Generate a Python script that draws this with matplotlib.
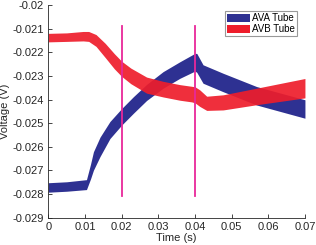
import numpy as np
import matplotlib
matplotlib.use('Agg')
import matplotlib.pyplot as plt

plt.rcParams['font.family'] = ['Liberation Sans', 'DejaVu Sans']

# AVA tube: time, centre voltage, vertical width of the band
ava_t = [0, 0.005, 0.0104, 0.0115, 0.0123, 0.0141, 0.0168, 0.020, 0.0232,
         0.0268, 0.0313, 0.0359, 0.040, 0.0405, 0.0422, 0.0477, 0.0568, 0.070]
ava_v = [-0.02772, -0.02768, -0.02760, -0.02705, -0.02660, -0.02600, -0.02529,
         -0.02473, -0.02423, -0.02370, -0.02317, -0.02275, -0.02242, -0.02245,
         -0.02292, -0.02328, -0.02384, -0.02440]
ava_w = [0.00040, 0.00040, 0.00042, 0.00062, 0.00078, 0.00082, 0.00072,
         0.00070, 0.00070, 0.00068, 0.00070, 0.00070, 0.00075, 0.00080,
         0.00078, 0.00078, 0.00078, 0.00078]

# AVB tube
avb_t = [0, 0.005, 0.0095, 0.011, 0.013, 0.0155, 0.018, 0.020, 0.0225, 0.0268,
         0.0313, 0.0359, 0.0391, 0.0400, 0.0413, 0.0432, 0.0477, 0.0568, 0.070]
avb_v = [-0.02138, -0.02136, -0.02132, -0.02133, -0.02150, -0.02192, -0.02238,
         -0.02270, -0.02300, -0.02339, -0.02356, -0.02370, -0.02377, -0.02380,
         -0.02394, -0.02416, -0.02412, -0.02387, -0.02352]
avb_w = [0.00036, 0.00036, 0.00040, 0.00042, 0.00050, 0.00060, 0.00064,
         0.00064, 0.00066, 0.00068, 0.00066, 0.00066, 0.00066, 0.00068,
         0.00070, 0.00060, 0.00064, 0.00070, 0.00082]

# vertical markers
mark_t = [0.02, 0.04]
mark_lo, mark_hi = -0.02808, -0.02089

blue = '#2e3192'
red = '#ee1d2b'
pink = '#e8289a'

fig = plt.figure(figsize=(3.16, 2.45), dpi=100)
ax = fig.add_axes([0.153, 0.1114, 0.812, 0.8682])

for t, v, w, c, lab, a in [(ava_t, ava_v, ava_w, blue, 'AVA Tube', 1.0),
                           (avb_t, avb_v, avb_w, red, 'AVB Tube', 0.92)]:
    t = np.array(t)
    v = np.array(v)
    w = np.array(w)
    ax.fill_between(t, v - w / 2, v + w / 2, color=c, alpha=a, lw=0, label=lab)

for t in mark_t:
    ax.plot([t, t], [mark_lo, mark_hi], color=pink, lw=1.3)

ax.set_xlim(0, 0.07)
ax.set_ylim(-0.029, -0.02)
ax.set_xticks(np.arange(0, 0.0701, 0.01))
ax.set_yticks(np.arange(-0.029, -0.01999, 0.001))
ax.xaxis.set_major_formatter(matplotlib.ticker.FormatStrFormatter('%g'))
ax.yaxis.set_major_formatter(matplotlib.ticker.FormatStrFormatter('%g'))
ax.tick_params(direction='in', length=3, width=0.6, labelsize=8,
               colors='#262626', pad=3)
for s in ['top', 'right']:
    ax.spines[s].set_visible(False)
for s in ['left', 'bottom']:
    ax.spines[s].set_color('#262626')
    ax.spines[s].set_linewidth(0.6)

ax.set_xlabel('Time (s)', fontsize=8, labelpad=1, color='#262626')
ax.set_ylabel('Voltage (V)', fontsize=8, labelpad=2, color='#262626')

leg = ax.legend(loc='upper right', bbox_to_anchor=(0.97, 0.97), borderaxespad=0,
                fontsize=7, frameon=True, fancybox=False, edgecolor='#808080',
                handlelength=2.3, handleheight=0.8, handletextpad=0.3,
                labelspacing=0.1, borderpad=0.2)
leg.get_frame().set_linewidth(0.8)
for h in leg.legend_handles:
    h.set_alpha(1)

fig.savefig('out.png', dpi=100)
